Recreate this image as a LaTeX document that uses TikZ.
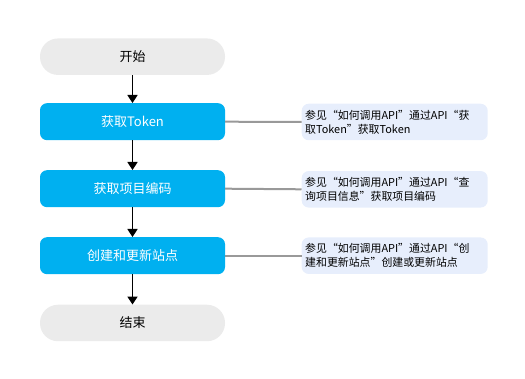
\documentclass[tikz,border=0pt]{standalone}
\usepackage{fontspec}
\setmainfont{Noto Sans CJK SC}
\usetikzlibrary{arrows.meta}
\definecolor{stepblue}{HTML}{00B0F0}
\definecolor{pillgray}{HTML}{EBEBEB}
\definecolor{notefill}{HTML}{E7EEFC}
\definecolor{linkgray}{HTML}{999999}
\begin{document}
\begin{tikzpicture}[x=1pt,y=-1pt,
  pill/.style={fill=pillgray,rounded corners=18pt,minimum width=185pt,minimum height=36.5pt,inner sep=0pt,font=\fontsize{13}{15}\selectfont,text=black},
  stepbox/.style={fill=stepblue,rounded corners=7pt,minimum width=185pt,minimum height=37pt,inner sep=0pt,font=\fontsize{13}{15}\selectfont,text=white},
  notebox/.style={fill=notefill,rounded corners=7pt,minimum width=186pt,minimum height=36.5pt,inner sep=0pt},
  notetext/.style={anchor=west,inner sep=0pt,align=left,font=\fontsize{10.9}{14}\selectfont,text=black},
  flow/.style={draw=black,line width=1.7pt,-{Triangle[length=8pt,width=10pt]}},
  link/.style={draw=linkgray,line width=2pt}]
\useasboundingbox (0,0) rectangle (525,379);
\node[pill] (start) at (132.5,56.7) {开始};
\node[stepbox] (token) at (132.5,121.7) {获取Token};
\node[stepbox] (proj) at (132.5,188.7) {获取项目编码};
\node[stepbox] (site) at (132.5,255.7) {创建和更新站点};
\node[pill] (end) at (132.5,323) {结束};
\node[notebox] (n1) at (394.7,122) {};
\node[notebox] (n2) at (394.7,189.3) {};
\node[notebox] (n3) at (394.7,255.7) {};
\node[notetext] (t1) at (305,122) {参见“如何调用API”通过API“获\\取Token”获取Token};
\node[notetext] (t2) at (305,189.3) {参见“如何调用API”通过API“查\\询项目信息”获取项目编码};
\node[notetext] (t3) at (305,255.7) {参见“如何调用API”通过API“创\\建和更新站点”创建或更新站点};
\draw[flow] (start) -- (token);
\draw[flow] (token) -- (proj);
\draw[flow] (proj) -- (site);
\draw[flow] (site) -- (end);
\draw[link] (token.east) -- (n1.west);
\draw[link] (proj.east) -- (n2.west);
\draw[link] (site.east) -- (n3.west);
\end{tikzpicture}
\end{document}
